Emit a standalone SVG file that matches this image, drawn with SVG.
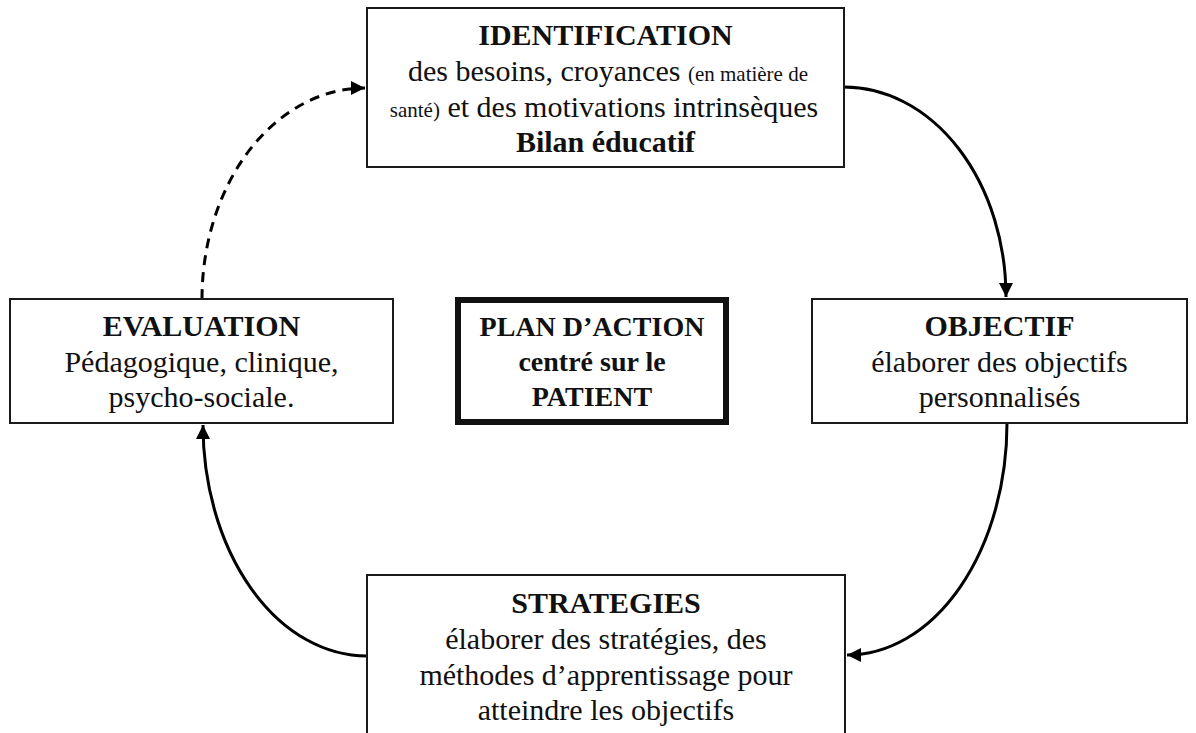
<svg xmlns="http://www.w3.org/2000/svg" width="1196" height="733" viewBox="0 0 1196 733">
<style>
.box{fill:#fff;stroke:#1a1a1a;stroke-width:2}
.t{font-family:"Liberation Serif","Times New Roman",serif;fill:#111;text-anchor:middle}
.b{font-weight:bold;font-size:30px}
.p{font-weight:bold;font-size:28px}
.r{font-size:30px}
.s{font-size:21px}
.c{fill:none;stroke:#000;stroke-width:3}
</style>
<defs>
<marker id="ah" markerUnits="userSpaceOnUse" markerWidth="16" markerHeight="14" refX="14" refY="7" orient="auto">
<path d="M0,0 L14,7 L0,14 Z" fill="#000"/>
</marker>
</defs>
<rect width="1196" height="733" fill="#fff"/>
<g id="connectors">
<path class="c" d="M844,87 A162,210 0 0 1 1006,297" marker-end="url(#ah)"/>
<path class="c" d="M1007,423 A160,232 0 0 1 847,655" marker-end="url(#ah)"/>
<path class="c" d="M367,656 A164,231 0 0 1 203,425" marker-end="url(#ah)"/>
<path class="c" d="M202,299 A163,211 0 0 1 365,88" stroke-dasharray="10 7" marker-end="url(#ah)"/>
</g>
<g id="identification">
<rect class="box" x="367" y="8" width="477" height="159"/>
<text class="t b" x="605.5" y="45">IDENTIFICATION</text>
<text class="t r" x="608" y="81">des besoins, croyances <tspan class="s">(en matière de</tspan></text>
<text class="t r" x="604" y="117"><tspan class="s">santé)</tspan> et des motivations intrinsèques</text>
<text class="t b" x="605.5" y="152">Bilan éducatif</text>
</g>
<g id="evaluation">
<rect class="box" x="10" y="299" width="383" height="124"/>
<text class="t b" x="201.5" y="336">EVALUATION</text>
<text class="t r" x="201.5" y="372">Pédagogique, clinique,</text>
<text class="t r" x="201.5" y="407">psycho-sociale.</text>
</g>
<g id="plan">
<rect x="458" y="300" width="268" height="122" fill="#fff" stroke="#111" stroke-width="6"/>
<text class="t p" x="592" y="336">PLAN D’ACTION</text>
<text class="t p" x="592" y="371">centré sur le</text>
<text class="t p" x="592" y="406">PATIENT</text>
</g>
<g id="objectif">
<rect class="box" x="812" y="299" width="375" height="124"/>
<text class="t b" x="999.5" y="336">OBJECTIF</text>
<text class="t r" x="999.5" y="372">élaborer des objectifs</text>
<text class="t r" x="999.5" y="407">personnalisés</text>
</g>
<g id="strategies">
<rect class="box" x="367" y="575" width="478" height="170"/>
<text class="t b" x="606" y="613">STRATEGIES</text>
<text class="t r" x="606" y="649">élaborer des stratégies, des</text>
<text class="t r" x="606" y="685">méthodes d’apprentissage pour</text>
<text class="t r" x="606" y="720">atteindre les objectifs</text>
</g>
</svg>
